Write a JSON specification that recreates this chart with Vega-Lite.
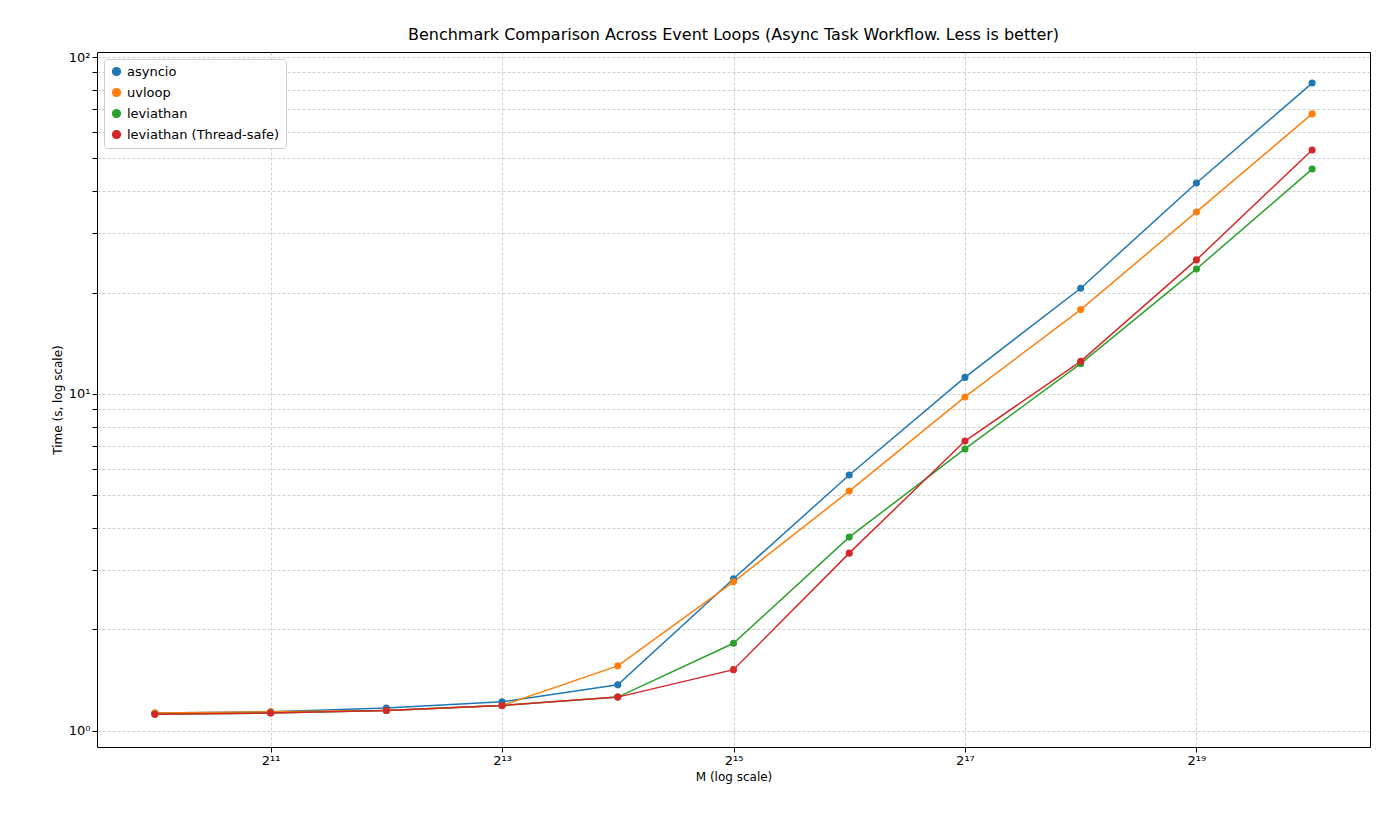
{
  "$schema": "https://vega.github.io/schema/vega-lite/v6.json",
  "width": 1273,
  "height": 695,
  "autosize": {"type": "none"},
  "padding": {"left": 97, "top": 52, "right": 21, "bottom": 87},
  "title": {"text": "Benchmark Comparison Across Event Loops (Async Task Workflow. Less is better)", "fontSize": 16, "fontWeight": "normal", "font": "DejaVu Sans", "color": "black", "offset": 8},
  "config": {
    "font": "DejaVu Sans",
    "view": {"stroke": "black"},
    "axis": {"labelFontSize": 12, "titleFontSize": 12, "titleFontWeight": "normal", "labelColor": "black", "titleColor": "black", "domain": false, "tickColor": "black", "gridColor": "#b0b0b0", "gridDash": [3, 2], "gridWidth": 0.6}
  },
  "data": {"values": [
    {"M": 1024, "loop": "asyncio", "t": 1.13}, {"M": 2048, "loop": "asyncio", "t": 1.14}, {"M": 4096, "loop": "asyncio", "t": 1.17}, {"M": 8192, "loop": "asyncio", "t": 1.22}, {"M": 16384, "loop": "asyncio", "t": 1.37}, {"M": 32768, "loop": "asyncio", "t": 2.83}, {"M": 65536, "loop": "asyncio", "t": 5.75}, {"M": 131072, "loop": "asyncio", "t": 11.2}, {"M": 262144, "loop": "asyncio", "t": 20.6}, {"M": 524288, "loop": "asyncio", "t": 42.3}, {"M": 1048576, "loop": "asyncio", "t": 83.7},
    {"M": 1024, "loop": "uvloop", "t": 1.13}, {"M": 2048, "loop": "uvloop", "t": 1.14}, {"M": 4096, "loop": "uvloop", "t": 1.15}, {"M": 8192, "loop": "uvloop", "t": 1.19}, {"M": 16384, "loop": "uvloop", "t": 1.56}, {"M": 32768, "loop": "uvloop", "t": 2.77}, {"M": 65536, "loop": "uvloop", "t": 5.15}, {"M": 131072, "loop": "uvloop", "t": 9.8}, {"M": 262144, "loop": "uvloop", "t": 17.8}, {"M": 524288, "loop": "uvloop", "t": 34.7}, {"M": 1048576, "loop": "uvloop", "t": 67.8},
    {"M": 1024, "loop": "leviathan", "t": 1.12}, {"M": 2048, "loop": "leviathan", "t": 1.13}, {"M": 4096, "loop": "leviathan", "t": 1.15}, {"M": 8192, "loop": "leviathan", "t": 1.19}, {"M": 16384, "loop": "leviathan", "t": 1.26}, {"M": 32768, "loop": "leviathan", "t": 1.82}, {"M": 65536, "loop": "leviathan", "t": 3.76}, {"M": 131072, "loop": "leviathan", "t": 6.87}, {"M": 262144, "loop": "leviathan", "t": 12.3}, {"M": 524288, "loop": "leviathan", "t": 23.5}, {"M": 1048576, "loop": "leviathan", "t": 46.5},
    {"M": 1024, "loop": "leviathan (Thread-safe)", "t": 1.12}, {"M": 2048, "loop": "leviathan (Thread-safe)", "t": 1.13}, {"M": 4096, "loop": "leviathan (Thread-safe)", "t": 1.15}, {"M": 8192, "loop": "leviathan (Thread-safe)", "t": 1.19}, {"M": 16384, "loop": "leviathan (Thread-safe)", "t": 1.26}, {"M": 32768, "loop": "leviathan (Thread-safe)", "t": 1.52}, {"M": 65536, "loop": "leviathan (Thread-safe)", "t": 3.37}, {"M": 131072, "loop": "leviathan (Thread-safe)", "t": 7.25}, {"M": 262144, "loop": "leviathan (Thread-safe)", "t": 12.5}, {"M": 524288, "loop": "leviathan (Thread-safe)", "t": 25.0}, {"M": 1048576, "loop": "leviathan (Thread-safe)", "t": 53.0}
  ]},
  "mark": {"type": "line", "point": {"filled": true, "size": 50, "opacity": 1}, "strokeWidth": 1.5},
  "encoding": {
    "x": {"field": "M", "type": "quantitative", "title": "M (log scale)",
      "scale": {"type": "log", "base": 2, "domain": [724, 1482910], "nice": false},
      "axis": {"values": [2048, 8192, 32768, 131072, 524288], "labelExpr": "datum.value == 2048 ? '2¹¹' : datum.value == 8192 ? '2¹³' : datum.value == 32768 ? '2¹⁵' : datum.value == 131072 ? '2¹⁷' : '2¹⁹'", "labelFontSize": 13}},
    "y": {"field": "t", "type": "quantitative", "title": "Time (s, log scale)",
      "scale": {"type": "log", "domain": [0.896, 103.5], "nice": false},
      "axis": {"values": [1, 2, 3, 4, 5, 6, 7, 8, 9, 10, 20, 30, 40, 50, 60, 70, 80, 90, 100], "labelExpr": "datum.value == 1 ? '10⁰' : datum.value == 10 ? '10¹' : datum.value == 100 ? '10²' : ''", "labelFontSize": 13}},
    "color": {"field": "loop", "type": "nominal", "sort": ["asyncio", "uvloop", "leviathan", "leviathan (Thread-safe)"],
      "scale": {"range": ["#1f77b4", "#ff7f0e", "#2ca02c", "#d62728"]},
      "legend": {"title": null, "orient": "top-left", "offset": 7, "labelFontSize": 13, "symbolType": "circle", "symbolSize": 60, "padding": 6, "strokeColor": "#cccccc", "fillColor": "white", "cornerRadius": 3, "rowPadding": 6}}
  }
}
